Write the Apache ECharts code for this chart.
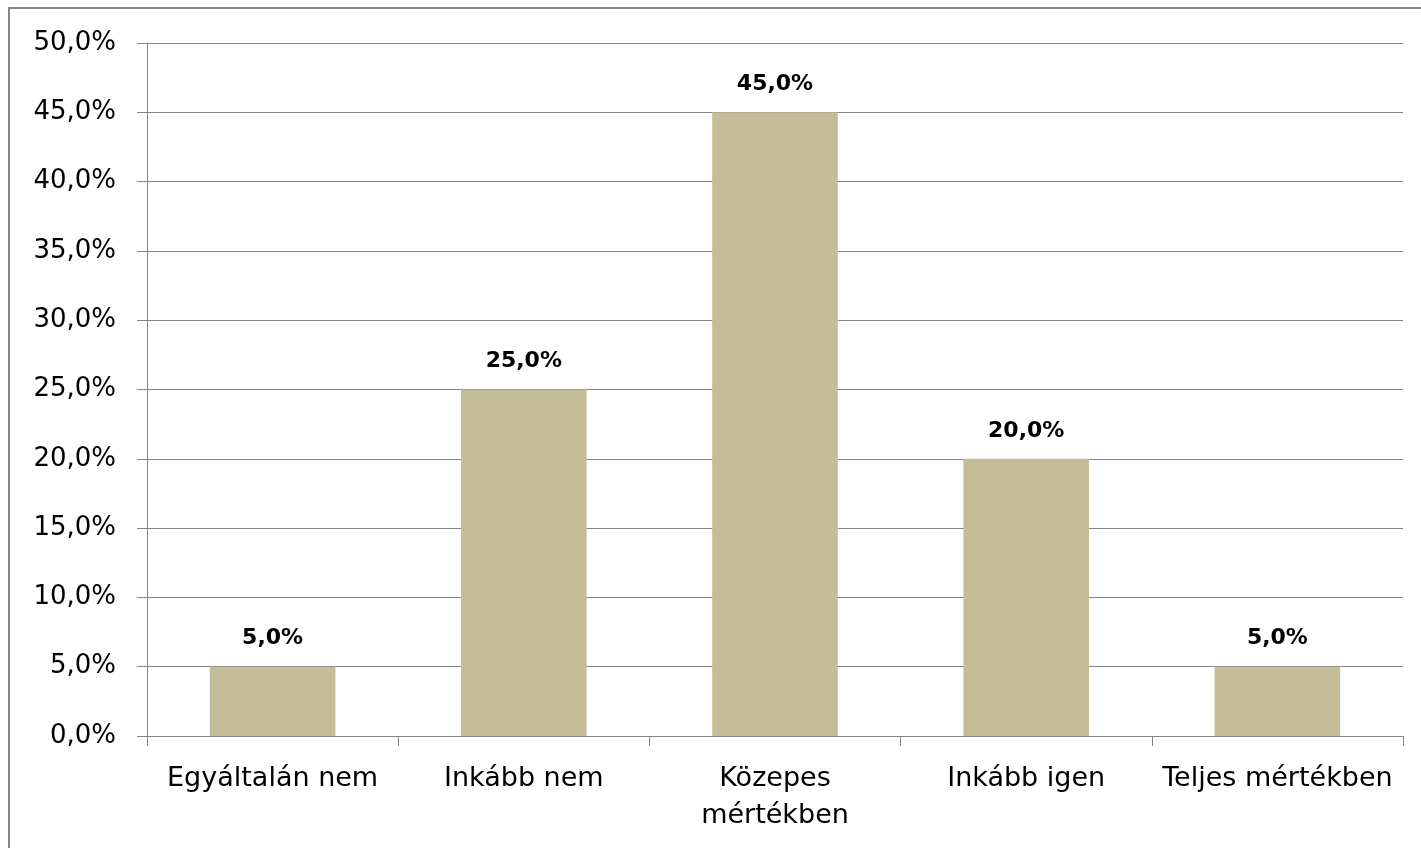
<!DOCTYPE html>
<html>
<head>
<meta charset="utf-8">
<script src="https://cdn.jsdelivr.net/npm/echarts@6/dist/echarts.min.js"></script>
<style>
  html, body { margin: 0; padding: 0; background: #fff; }
  #chart { width: 1421px; height: 848px; }
</style>
</head>
<body>
<div id="chart"></div>
<script>
// Response categories and shares (percent)
const categories = ['Egyáltalán nem', 'Inkább nem', 'Közepes\nmértékben', 'Inkább igen', 'Teljes mértékben'];
const shares = [5.0, 25.0, 45.0, 20.0, 5.0];
const yTicks = { min: 0, max: 50, step: 5 };

const fmt = v => v.toFixed(1).replace('.', ',') + '%';
const FONT = '"DejaVu Sans", sans-serif';

const chart = echarts.init(document.getElementById('chart'), null, { renderer: 'canvas' });
chart.setOption({
  animation: false,
  backgroundColor: '#fff',
  graphic: [{
    type: 'rect',
    shape: { x: 9, y: 8, width: 1440, height: 880 },
    style: { fill: 'none', stroke: '#868686', lineWidth: 2 },
    silent: true
  }],
  grid: { left: 147, right: 18, top: 43, bottom: 112 },
  xAxis: {
    type: 'category',
    data: categories,
    axisLine: { lineStyle: { color: '#868686', width: 1 } },
    axisTick: { show: true, length: 10, alignWithLabel: false, lineStyle: { color: '#868686' } },
    axisLabel: { color: '#000', fontFamily: FONT, fontSize: 27, margin: 24, lineHeight: 37, interval: 0 }
  },
  yAxis: {
    type: 'value',
    min: yTicks.min, max: yTicks.max, interval: yTicks.step,
    axisLine: { show: true, lineStyle: { color: '#868686', width: 1 } },
    axisTick: { show: true, length: 10, lineStyle: { color: '#868686' } },
    splitLine: { lineStyle: { color: '#868686', width: 1 } },
    axisLabel: { color: '#000', fontFamily: FONT, fontSize: 26, margin: 31, formatter: fmt }
  },
  series: [{
    type: 'bar',
    data: shares,
    barWidth: '50%',
    itemStyle: { color: '#C4BD97' },
    label: {
      show: true, position: 'top', distance: 17,
      color: '#000', fontFamily: FONT, fontWeight: 'bold', fontSize: 22,
      formatter: p => fmt(p.value)
    }
  }]
});
</script>
</body>
</html>
